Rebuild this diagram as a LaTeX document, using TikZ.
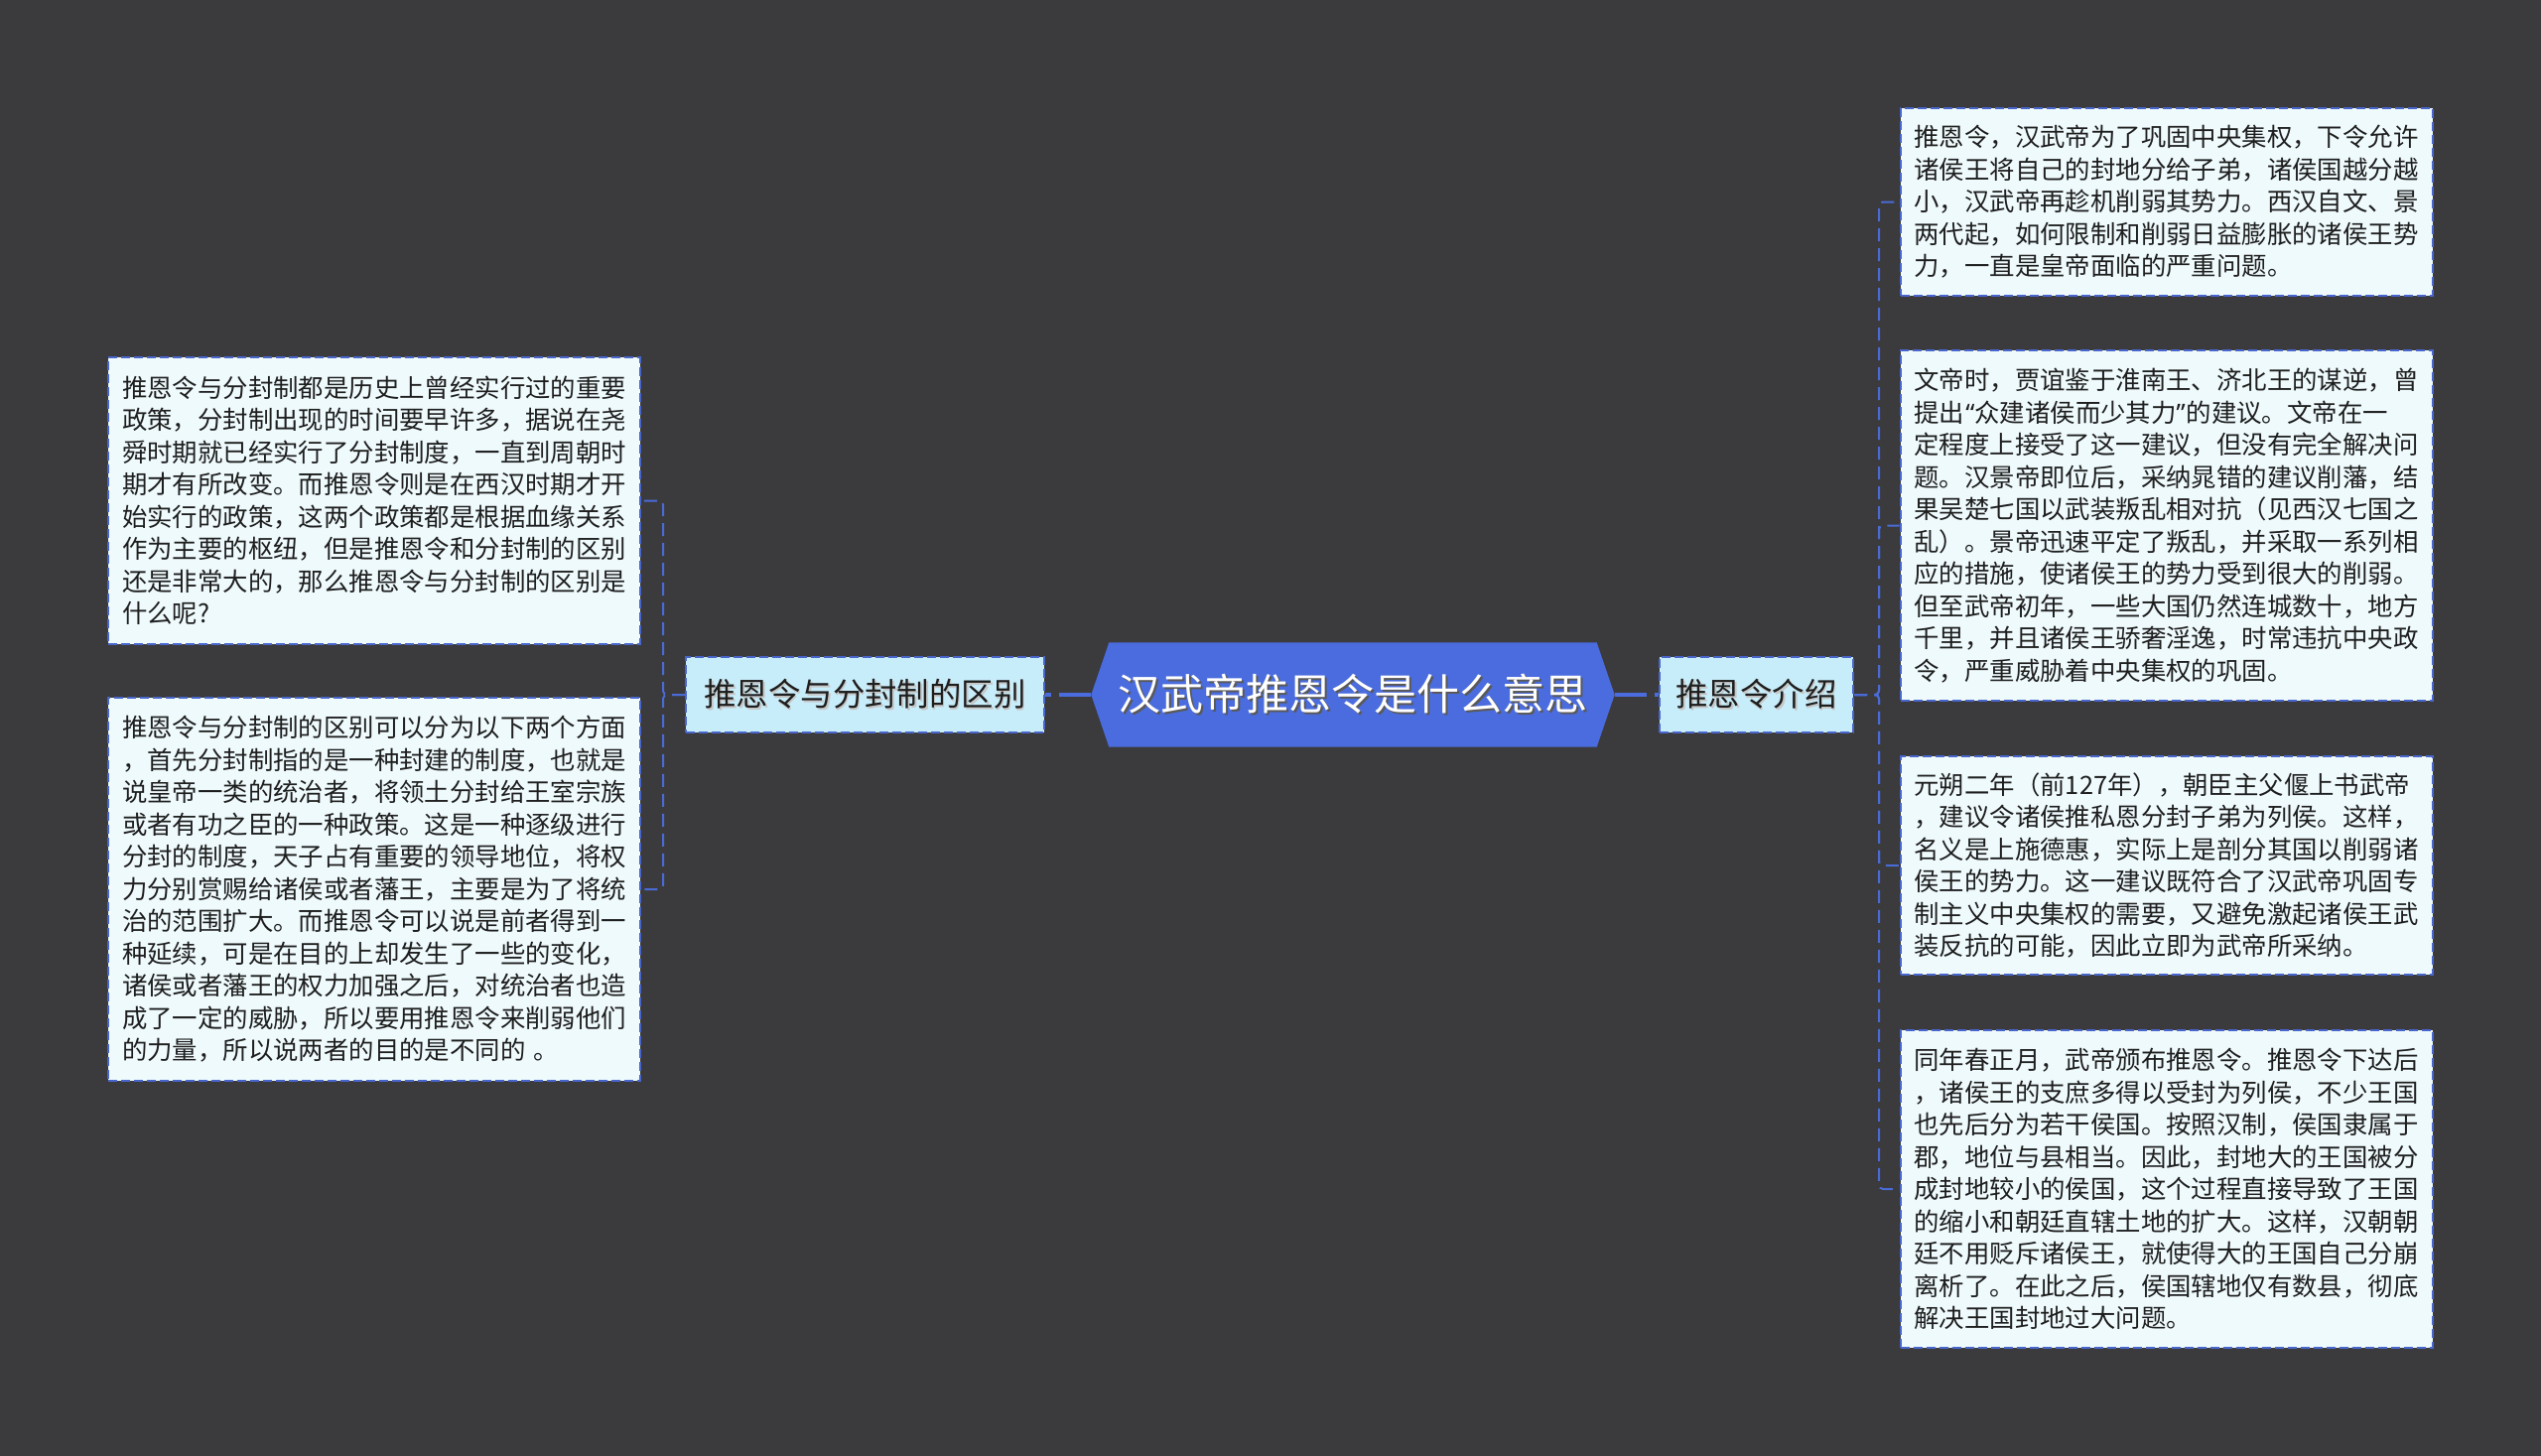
\documentclass[tikz,border=0pt]{standalone}
\usepackage{fontspec}
\newfontfamily\cjk{Noto Sans CJK SC}
\newfontfamily\latq{Noto Sans}
\definecolor{bgc}{HTML}{3B3A3C}
\definecolor{mainc}{HTML}{4A6CDE}
\definecolor{linec}{HTML}{4A6BD6}
\definecolor{borderc}{HTML}{4866CC}
\definecolor{leaffill}{HTML}{EFFAFD}
\definecolor{midfill}{HTML}{C8EDFA}
\definecolor{textc}{HTML}{1E1E1E}
\newcommand\shd[2]{\makebox[0pt][l]{\kern1.6pt\raisebox{-1.6pt}{\color{#1}#2}}#2}
\newcommand\myoq{{\latq\kern1pt“}}
\newcommand\mycq{{\latq ”\kern1pt}}
\pgfdeclarelayer{bg}
\pgfsetlayers{bg,main}
\tikzset{
  leaf/.style={draw=borderc, fill=leaffill, line width=2pt, dash pattern=on 9pt off 4pt,
    text width=508pt, inner xsep=14pt, inner ysep=0pt, align=left, text=textc,
    font=\cjk\fontsize{25.4}{32.5}\selectfont},
  midnode/.style={draw=borderc, fill=midfill, line width=2pt, dash pattern=on 9pt off 4pt,
    minimum height=76pt, inner sep=0pt, text=textc,
    font=\cjk\fontsize{32.4}{38}\selectfont},
  centernode/.style={minimum width=527pt, minimum height=105pt, inner sep=0pt, text=white,
    font=\cjk\fontsize{43}{50}\selectfont},
  link/.style={draw=linec, line width=2pt, dash pattern=on 13pt off 7pt, rounded corners=4pt},
  mainlink/.style={draw=mainc, line width=4pt, dash pattern=on 32pt off 8pt},
}
\begin{document}
\begin{tikzpicture}[x=1pt,y=-1pt]
\useasboundingbox (0,0) rectangle (2560,1467);
\begin{pgfonlayer}{bg}
\fill[bgc] (0,0) rectangle (2560,1467);
\end{pgfonlayer}

% center
\node[centernode] (c) at (1363,700) {\shd{black!65}{汉武帝推恩令是什么意思}};
\begin{pgfonlayer}{bg}
\fill[mainc] (c.west) -- ([xshift=18pt]c.north west) -- ([xshift=-18pt]c.north east) -- (c.east)
  -- ([xshift=-18pt]c.south east) -- ([xshift=18pt]c.south west) -- cycle;
\end{pgfonlayer}

% mid nodes
\node[midnode, minimum width=361pt] (lm) at (871.5,700) {\shd{black!22}{推恩令与分封制的区别}};
\node[midnode, minimum width=195pt] (rm) at (1769.5,700) {\shd{black!22}{推恩令介绍}};

% left leaves
\node[leaf, minimum height=289pt] (l1) at (377,504.5) {推恩令与分封制都是历史上曾经实行过的重要\\
政策，分封制出现的时间要早许多，据说在尧\\
舜时期就已经实行了分封制度，一直到周朝时\\
期才有所改变。而推恩令则是在西汉时期才开\\
始实行的政策，这两个政策都是根据血缘关系\\
作为主要的枢纽，但是推恩令和分封制的区别\\
还是非常大的，那么推恩令与分封制的区别是\\
什么呢?};
\node[leaf, minimum height=386pt] (l2) at (377,896) {推恩令与分封制的区别可以分为以下两个方面\\
，首先分封制指的是一种封建的制度，也就是\\
说皇帝一类的统治者，将领土分封给王室宗族\\
或者有功之臣的一种政策。这是一种逐级进行\\
分封的制度，天子占有重要的领导地位，将权\\
力分别赏赐给诸侯或者藩王，主要是为了将统\\
治的范围扩大。而推恩令可以说是前者得到一\\
种延续，可是在目的上却发生了一些的变化，\\
诸侯或者藩王的权力加强之后，对统治者也造\\
成了一定的威胁，所以要用推恩令来削弱他们\\
的力量，所以说两者的目的是不同的 。};

% right leaves
\node[leaf, minimum height=189pt] (r1) at (2182.5,203.5) {推恩令，汉武帝为了巩固中央集权，下令允许\\
诸侯王将自己的封地分给子弟，诸侯国越分越\\
小，汉武帝再趁机削弱其势力。西汉自文、景\\
两代起，如何限制和削弱日益膨胀的诸侯王势\\
力，一直是皇帝面临的严重问题。};
\node[leaf, minimum height=353pt] (r2) at (2182.5,529.5) {文帝时，贾谊鉴于淮南王、济北王的谋逆，曾\\
提出\myoq 众建诸侯而少其力\mycq 的建议。文帝在一\\
定程度上接受了这一建议，但没有完全解决问\\
题。汉景帝即位后，采纳晁错的建议削藩，结\\
果吴楚七国以武装叛乱相对抗（见西汉七国之\\
乱）。景帝迅速平定了叛乱，并采取一系列相\\
应的措施，使诸侯王的势力受到很大的削弱。\\
但至武帝初年，一些大国仍然连城数十，地方\\
千里，并且诸侯王骄奢淫逸，时常违抗中央政\\
令，严重威胁着中央集权的巩固。};
\node[leaf, minimum height=220pt] (r3) at (2182.5,872) {元朔二年（前127年），朝臣主父偃上书武帝\\
，建议令诸侯推私恩分封子弟为列侯。这样，\\
名义是上施德惠，实际上是剖分其国以削弱诸\\
侯王的势力。这一建议既符合了汉武帝巩固专\\
制主义中央集权的需要，又避免激起诸侯王武\\
装反抗的可能，因此立即为武帝所采纳。};
\node[leaf, minimum height=320pt] (r4) at (2182.5,1198) {同年春正月，武帝颁布推恩令。推恩令下达后\\
，诸侯王的支庶多得以受封为列侯，不少王国\\
也先后分为若干侯国。按照汉制，侯国隶属于\\
郡，地位与县相当。因此，封地大的王国被分\\
成封地较小的侯国，这个过程直接导致了王国\\
的缩小和朝廷直辖土地的扩大。这样，汉朝朝\\
廷不用贬斥诸侯王，就使得大的王国自己分崩\\
离析了。在此之后，侯国辖地仅有数县，彻底\\
解决王国封地过大问题。};

% connectors
\draw[mainlink] (c.west) -- (lm.east);
\draw[mainlink] (c.east) -- (rm.west);
\draw[link] (lm.west) -- ++(-22,0) |- (l1.east);
\draw[link] (lm.west) -- ++(-22,0) |- (l2.east);
\draw[link] (rm.east) -- ++(25,0) |- (r1.west);
\draw[link] (rm.east) -- ++(25,0) |- (r2.west);
\draw[link] (rm.east) -- ++(25,0) |- (r3.west);
\draw[link] (rm.east) -- ++(25,0) |- (r4.west);
\end{tikzpicture}
\end{document}
